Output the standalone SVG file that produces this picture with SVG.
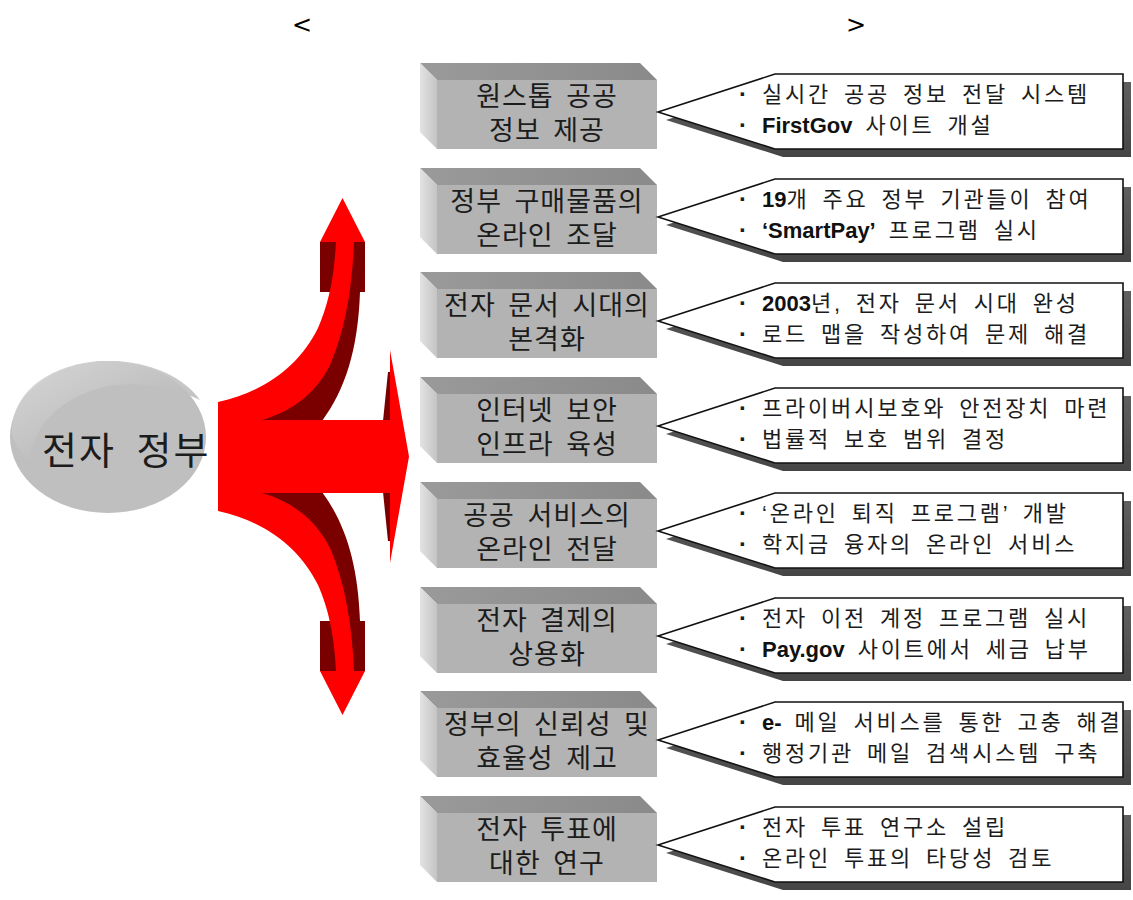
<svg xmlns="http://www.w3.org/2000/svg" xmlns:xlink="http://www.w3.org/1999/xlink" width="1133" height="900" viewBox="0 0 1133 900">
<style>
  .kr { font-family: "Liberation Sans", "Noto Sans CJK KR", sans-serif; fill: #1c1c1c; }
  .box-t { font-size: 27px; letter-spacing: 1px; word-spacing: 4px; text-anchor: middle; }
  .co-t { font-size: 22px; letter-spacing: 2.8px; word-spacing: 4px; }
  .b { font-weight: bold; fill: #111; letter-spacing: 0px; }
  .dot { font-weight: bold; font-size: 24px; }
  .title { font-family: "DejaVu Sans", sans-serif; font-size: 24px; fill: #000; }
</style>
<defs>
  <linearGradient id="gTop" x1="0" y1="0" x2="1" y2="0">
    <stop offset="0" stop-color="#9a9a9a"/>
    <stop offset="1" stop-color="#8a8a8a"/>
  </linearGradient>
  <linearGradient id="gLeft" x1="0" y1="0" x2="1" y2="0">
    <stop offset="0" stop-color="#e2e2e2"/>
    <stop offset="1" stop-color="#c4c4c4"/>
  </linearGradient>
  <linearGradient id="gEll" x1="0" y1="0" x2="1" y2="1">
    <stop offset="0" stop-color="#d9d9d9"/>
    <stop offset="0.5" stop-color="#c2c2c2"/>
    <stop offset="1" stop-color="#b5b5b5"/>
  </linearGradient>
  <linearGradient id="gShadow" x1="0" y1="0" x2="0" y2="1">
    <stop offset="0" stop-color="#606060"/>
    <stop offset="1" stop-color="#454545"/>
  </linearGradient>
  <clipPath id="coClip" clipPathUnits="userSpaceOnUse">
    <rect x="700" y="60" width="422" height="100"/>
  </clipPath>
  <g id="box">
    <polygon points="420,63 640,63 657,80 437,80" fill="url(#gTop)"/>
    <polygon points="420,63 437,80 437,149 420,132" fill="url(#gLeft)"/>
    <rect x="437" y="80" width="220" height="69" fill="#b3b3b3"/>
  </g>
  <g id="callout">
    <polygon points="666,120 783,82 1131,82 1131,157 783,157" fill="url(#gShadow)"/>
    <polygon points="658,112 775,74 1123,74 1123,149 775,149" fill="#ffffff" stroke="#111" stroke-width="1.6" stroke-linejoin="miter"/>
  </g>
</defs>

<g id="title">
  <text class="title" x="292" y="33">&lt;</text>
  <text class="title" x="846" y="33">&gt;</text>
</g>

<g id="center-node">
  <ellipse cx="108" cy="437" rx="98" ry="76" fill="#bfbfbf"/>
  <path d="M 12,430 C 14,385 60,362 105,361 C 150,360 185,378 200,400 C 170,385 130,380 100,388 C 65,398 35,420 30,460 C 20,452 12,442 12,430 Z" fill="url(#gEll)" opacity="0.9"/>
  <text class="kr" x="42" y="464" font-size="38" letter-spacing="2" word-spacing="8">전자 정부</text>
</g>

<g id="connectors">
  <g id="shade-top">
    <rect x="320" y="242" width="45" height="50" fill="#7a0000"/>
    <path d="M 255,421 C 300,405 340,360 348,292 L 360,292 C 358,350 345,390 322,421 Z" fill="#7a0000"/>
  </g>
  <g transform="translate(0,913) scale(1,-1)">
    <rect x="320" y="242" width="45" height="50" fill="#7a0000"/>
    <path d="M 255,421 C 300,405 340,360 348,292 L 360,292 C 358,350 345,390 322,421 Z" fill="#7a0000"/>
  </g>
  <polygon points="383,421 388,372 392,372 392,421" fill="#7a0000"/>
  <polygon points="383,492 388,541 392,541 392,492" fill="#7a0000"/>
  <path d="M 218,402 C 265,392 300,365 318,328 C 328,305 334,280 336,242 L 320,242 L 342.5,198 L 365,242 L 354,242 C 352,290 345,330 330,365 C 315,395 290,412 262,420 L 390,420 L 390,350 L 409,456.5 L 390,563 L 390,493 L 262,493 C 290,501 315,518 330,548 C 345,583 352,623 354,671 L 365,671 L 342.5,715 L 320,671 L 336,671 C 334,633 328,608 318,585 C 300,548 265,521 218,511 Z" fill="#ff0000"/>
</g>

<g id="row1">
  <use href="#box"/><use href="#callout"/>
  <text class="kr box-t" x="547" y="106">원스톱 공공</text>
  <text class="kr box-t" x="547" y="140">정보 제공</text>
  <g clip-path="url(#coClip)">
  <text class="kr co-t" y="102"><tspan class="dot" x="739">·</tspan><tspan x="762">실시간 공공 정보 전달 시스템</tspan></text>
  <text class="kr co-t" y="133"><tspan class="dot" x="739">·</tspan><tspan x="762" class="b">FirstGov</tspan> 사이트 개설</text>
  </g>
</g>
<g id="row2" transform="translate(0,105)">
  <use href="#box"/><use href="#callout"/>
  <text class="kr box-t" x="547" y="106">정부 구매물품의</text>
  <text class="kr box-t" x="547" y="140">온라인 조달</text>
  <g clip-path="url(#coClip)">
  <text class="kr co-t" y="102"><tspan class="dot" x="739">·</tspan><tspan x="762" class="b">19</tspan>개 주요 정부 기관들이 참여</text>
  <text class="kr co-t" y="133"><tspan class="dot" x="739">·</tspan><tspan x="762" class="b">‘SmartPay’</tspan> 프로그램 실시</text>
  </g>
</g>
<g id="row3" transform="translate(0,209)">
  <use href="#box"/><use href="#callout"/>
  <text class="kr box-t" x="547" y="106">전자 문서 시대의</text>
  <text class="kr box-t" x="547" y="140">본격화</text>
  <g clip-path="url(#coClip)">
  <text class="kr co-t" y="102"><tspan class="dot" x="739">·</tspan><tspan x="762" class="b">2003</tspan>년, 전자 문서 시대 완성</text>
  <text class="kr co-t" y="133"><tspan class="dot" x="739">·</tspan><tspan x="762">로드 맵을 작성하여 문제 해결</tspan></text>
  </g>
</g>
<g id="row4" transform="translate(0,314)">
  <use href="#box"/><use href="#callout"/>
  <text class="kr box-t" x="547" y="106">인터넷 보안</text>
  <text class="kr box-t" x="547" y="140">인프라 육성</text>
  <g clip-path="url(#coClip)">
  <text class="kr co-t" y="102"><tspan class="dot" x="739">·</tspan><tspan x="762">프라이버시보호와 안전장치 마련</tspan></text>
  <text class="kr co-t" y="133"><tspan class="dot" x="739">·</tspan><tspan x="762">법률적 보호 범위 결정</tspan></text>
  </g>
</g>
<g id="row5" transform="translate(0,419)">
  <use href="#box"/><use href="#callout"/>
  <text class="kr box-t" x="547" y="106">공공 서비스의</text>
  <text class="kr box-t" x="547" y="140">온라인 전달</text>
  <g clip-path="url(#coClip)">
  <text class="kr co-t" y="102"><tspan class="dot" x="739">·</tspan><tspan x="762">‘온라인 퇴직 프로그램’ 개발</tspan></text>
  <text class="kr co-t" y="133"><tspan class="dot" x="739">·</tspan><tspan x="762">학지금 융자의 온라인 서비스</tspan></text>
  </g>
</g>
<g id="row6" transform="translate(0,524)">
  <use href="#box"/><use href="#callout"/>
  <text class="kr box-t" x="547" y="106">전자 결제의</text>
  <text class="kr box-t" x="547" y="140">상용화</text>
  <g clip-path="url(#coClip)">
  <text class="kr co-t" y="102"><tspan class="dot" x="739">·</tspan><tspan x="762">전자 이전 계정 프로그램 실시</tspan></text>
  <text class="kr co-t" y="133"><tspan class="dot" x="739">·</tspan><tspan x="762" class="b">Pay.gov</tspan> 사이트에서 세금 납부</text>
  </g>
</g>
<g id="row7" transform="translate(0,628)">
  <use href="#box"/><use href="#callout"/>
  <text class="kr box-t" x="547" y="106">정부의 신뢰성 및</text>
  <text class="kr box-t" x="547" y="140">효율성 제고</text>
  <g clip-path="url(#coClip)">
  <text class="kr co-t" y="102"><tspan class="dot" x="739">·</tspan><tspan x="762" class="b">e-</tspan> 메일 서비스를 통한 고충 해결</text>
  <text class="kr co-t" y="133"><tspan class="dot" x="739">·</tspan><tspan x="762">행정기관 메일 검색시스템 구축</tspan></text>
  </g>
</g>
<g id="row8" transform="translate(0,733)">
  <use href="#box"/><use href="#callout"/>
  <text class="kr box-t" x="547" y="106">전자 투표에</text>
  <text class="kr box-t" x="547" y="140">대한 연구</text>
  <g clip-path="url(#coClip)">
  <text class="kr co-t" y="102"><tspan class="dot" x="739">·</tspan><tspan x="762">전자 투표 연구소 설립</tspan></text>
  <text class="kr co-t" y="133"><tspan class="dot" x="739">·</tspan><tspan x="762">온라인 투표의 타당성 검토</tspan></text>
  </g>
</g>
</svg>
